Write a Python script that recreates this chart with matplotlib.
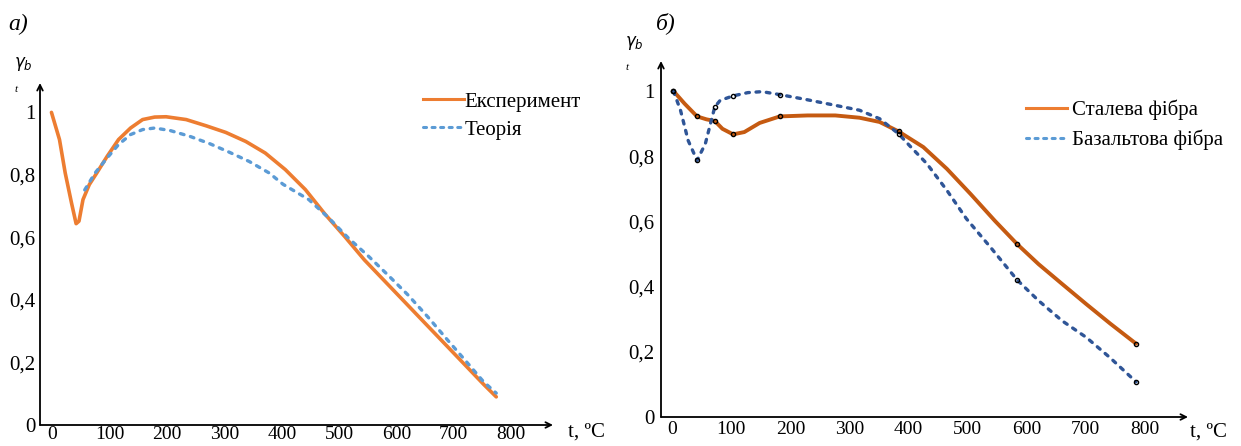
import numpy as np
import matplotlib.pyplot as plt
from matplotlib.lines import Line2D

plt.rcParams['font.family'] = ['Liberation Serif', 'DejaVu Serif']

# --- panel a): experiment vs theory (read off the picture) ---
exp_t = [-2, 12, 22, 33, 41, 46, 53, 64, 77, 95, 115, 136, 157, 178, 198, 233, 268,
         302, 337, 371, 406, 441, 475, 510, 544, 579, 613, 648, 682, 717, 752, 774]
exp_v = [1.0, 0.913, 0.806, 0.710, 0.644, 0.652, 0.721, 0.769, 0.806, 0.859, 0.913,
         0.950, 0.977, 0.985, 0.986, 0.977, 0.957, 0.936, 0.907, 0.870, 0.817, 0.753,
         0.675, 0.602, 0.528, 0.461, 0.396, 0.329, 0.264, 0.197, 0.130, 0.090]

theo_t = [56, 74, 95, 115, 136, 157, 178, 205, 240, 274, 309, 343, 378, 402, 447,
          482, 516, 551, 586, 620, 655, 689, 724, 752, 774]
theo_v = [0.752, 0.806, 0.854, 0.897, 0.929, 0.945, 0.950, 0.942, 0.923, 0.900, 0.872,
          0.843, 0.806, 0.770, 0.721, 0.662, 0.598, 0.540, 0.478, 0.416, 0.345, 0.272,
          0.198, 0.138, 0.102]

# --- panel б): steel vs basalt fibre ---
steel_t = [2, 21, 42, 58, 72, 85, 103, 122, 148, 182, 229, 276, 317, 351, 383, 425,
           465, 505, 546, 584, 620, 660, 701, 741, 785]
steel_v = [1.0, 0.961, 0.922, 0.913, 0.908, 0.884, 0.867, 0.874, 0.902, 0.922, 0.925,
           0.925, 0.918, 0.905, 0.876, 0.828, 0.761, 0.684, 0.602, 0.530, 0.469, 0.408,
           0.346, 0.287, 0.225]
steel_pt_t = [2, 42, 72, 103, 182, 383, 584, 785]
steel_pt_v = [1.0, 0.922, 0.908, 0.867, 0.922, 0.876, 0.530, 0.225]

bas_t = [2, 14, 27, 42, 56, 72, 81, 103, 128, 152, 182, 229, 276, 317, 351, 383, 404,
         431, 465, 498, 539, 584, 620, 660, 701, 741, 785]
bas_v = [1.0, 0.941, 0.848, 0.787, 0.838, 0.951, 0.971, 0.985, 0.995, 0.998, 0.989,
         0.973, 0.956, 0.941, 0.915, 0.869, 0.828, 0.777, 0.695, 0.608, 0.520, 0.420,
         0.357, 0.295, 0.244, 0.182, 0.108]
bas_pt_t = [2, 42, 72, 103, 182, 383, 584, 785]
bas_pt_v = [1.0, 0.787, 0.951, 0.985, 0.989, 0.869, 0.420, 0.108]

xticks = [0, 100, 200, 300, 400, 500, 600, 700, 800]
yticks = [0, 0.2, 0.4, 0.6, 0.8, 1.0]
ylabels = ['0', '0,2', '0,4', '0,6', '0,8', '1']

ORANGE = '#ED7D31'
LBLUE = '#5B9BD5'
DORANGE = '#C55A11'
DBLUE = '#2F5597'
FS = 15

W, H = 1241, 446
fig = plt.figure(figsize=(W / 100, H / 100), dpi=100)


def make_axes(left, right, top, bottom, xlim, ylim, xpad, ypad):
    ax = fig.add_axes([left / W, 1 - bottom / H, (right - left) / W, (bottom - top) / H])
    ax.set_xlim(*xlim)
    ax.set_ylim(*ylim)
    for s in ['top', 'right', 'left', 'bottom']:
        ax.spines[s].set_visible(False)
    ax.annotate('', xy=(1, 0), xytext=(0, 0), xycoords='axes fraction',
                arrowprops=dict(arrowstyle='->', lw=1.3, color='black', shrinkA=0, shrinkB=0))
    ax.annotate('', xy=(0, 1), xytext=(0, 0), xycoords='axes fraction',
                arrowprops=dict(arrowstyle='->', lw=1.3, color='black', shrinkA=0, shrinkB=0))
    ax.set_xticks(xticks)
    ax.set_yticks(yticks)
    ax.set_yticklabels(ylabels)
    ax.tick_params(length=0, labelsize=FS)
    ax.tick_params(axis='x', pad=xpad, labelsize=14)
    ax.tick_params(axis='y', pad=ypad)
    return ax


dash = (0, (1.1, 2.0))

# panel a)
ax1 = make_axes(40, 553, 83, 425, (-22, 873), (0, 1.094), 0.8, 3.5)
ax1.plot(exp_t, exp_v, color=ORANGE, lw=2.6, solid_capstyle='round')
ax1.plot(theo_t, theo_v, color=LBLUE, lw=2.4, ls=dash, dash_capstyle='round')
h1 = [Line2D([], [], color=ORANGE, lw=2.2),
      Line2D([], [], color=LBLUE, lw=2.2, ls=(0, (1.0, 1.8)), dash_capstyle='round')]
fig.legend(h1, ['Експеримент', 'Теорія'], loc='upper left',
           bbox_to_anchor=(423 / W, 1 - 92 / H), frameon=False, fontsize=FS,
           handlelength=1.95, handletextpad=0.05, labelspacing=0.41, borderpad=0,
           borderaxespad=0)
fig.text(568 / W, 1 - 432 / H, 't, ºC', fontsize=FS, va='center', ha='left')
fig.text(8 / W, 1 - 24 / H, 'а)', fontsize=17, style='italic', va='center')
fig.text(14 / W, 1 - 64 / H, r'$\gamma_b$', fontsize=12, va='center')
fig.text(15 / W, 1 - 89 / H, 't', fontsize=8, style='italic', va='center')

# panel б)
ax2 = make_axes(661, 1188, 61, 417, (-19, 873), (0, 1.092), 3, 4.8)
ax2.plot(steel_t, steel_v, color=DORANGE, lw=2.8, solid_capstyle='round')
ax2.plot(bas_t, bas_v, color=DBLUE, lw=2.4, ls=dash, dash_capstyle='round')
ax2.plot(steel_pt_t, steel_pt_v, 'o', ms=3, mfc='none', mec='black', mew=1.0)
ax2.plot(bas_pt_t, bas_pt_v, 'o', ms=3, mfc='none', mec='black', mew=1.0)
h2 = [Line2D([], [], color=ORANGE, lw=2.2),
      Line2D([], [], color=LBLUE, lw=2.2, ls=(0, (1.0, 1.8)), dash_capstyle='round')]
fig.legend(h2, ['Сталева фібра', 'Базальтова фібра'], loc='upper left',
           bbox_to_anchor=(1026 / W, 1 - 100 / H), frameon=False, fontsize=FS,
           handlelength=1.95, handletextpad=0.25, labelspacing=0.45, borderpad=0,
           borderaxespad=0)
fig.text(1190 / W, 1 - 432 / H, 't, ºC', fontsize=FS, va='center', ha='left')
fig.text(656 / W, 1 - 23 / H, 'б)', fontsize=17, style='italic', va='center')
fig.text(625 / W, 1 - 43 / H, r'$\gamma_b$', fontsize=12, va='center')
fig.text(626 / W, 1 - 68 / H, 't', fontsize=8, style='italic', va='center')

fig.savefig('out.png', dpi=100)
